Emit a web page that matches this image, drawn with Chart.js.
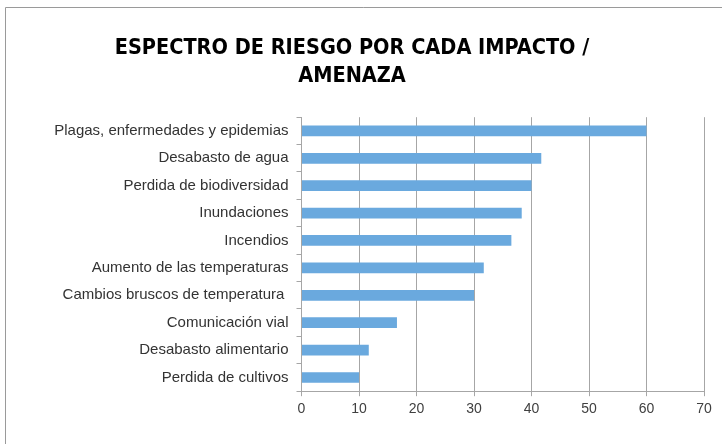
<!DOCTYPE html>
<html>
<head>
<meta charset="utf-8">
<script src="https://cdn.jsdelivr.net/npm/chart.js@4/dist/chart.umd.min.js"></script>
<style>
html,body{margin:0;padding:0;background:#fff;}
#wrap{width:722px;height:444px;position:relative;}
</style>
</head>
<body>
<div id="wrap"><canvas id="c" width="722" height="444"></canvas></div>
<script>
const categories = [
  "Plagas, enfermedades y epidemias",
  "Desabasto de agua",
  "Perdida de biodiversidad",
  "Inundaciones",
  "Incendios",
  "Aumento de las temperaturas",
  "Cambios bruscos de temperatura ",
  "Comunicación vial",
  "Desabasto alimentario",
  "Perdida de cultivos"
];
const values = [60, 41.7, 40, 38.3, 36.5, 31.7, 30, 16.6, 11.7, 10];
const titleLines = ["ESPECTRO DE RIESGO POR CADA IMPACTO /", "AMENAZA"];
const xMin = 0, xMax = 70, xStep = 10;

const frame = {
  id: 'frame',
  beforeDraw(chart) {
    const ctx = chart.ctx;
    ctx.save();
    ctx.fillStyle = '#fff';
    ctx.fillRect(0, 0, chart.width, chart.height);
    ctx.strokeStyle = '#9a9a9a';
    ctx.lineWidth = 1;
    ctx.beginPath();
    ctx.moveTo(5.5, chart.height);
    ctx.lineTo(5.5, 7.5);
    ctx.lineTo(chart.width, 7.5);
    ctx.stroke();
    ctx.restore();
  }
};

new Chart(document.getElementById('c'), {
  type: 'bar',
  data: {
    labels: categories,
    datasets: [{
      data: values,
      backgroundColor: '#6aa9de',
      borderWidth: 0,
      categoryPercentage: 0.8,
      barPercentage: 0.49
    }]
  },
  plugins: [frame],
  options: {
    indexAxis: 'y',
    responsive: false,
    animation: false,
    layout: { padding: { left: 0, right: 18, top: 34, bottom: 21 } },
    plugins: {
      legend: { display: false },
      tooltip: { enabled: false },
      title: {
        display: true,
        text: titleLines,
        color: '#000',
        font: { family: "'DejaVu Sans Condensed',sans-serif", size: 21.5, weight: 'bold', lineHeight: 1.33 },
        padding: { top: 0, bottom: 26 }
      }
    },
    scales: {
      x: {
        min: xMin, max: xMax,
        ticks: { stepSize: xStep, color: '#404040', font: { family: "'Liberation Sans',Arial,sans-serif", size: 14 }, padding: 5 },
        grid: { color: '#a6a6a6', tickLength: 5, tickColor: '#a6a6a6' },
        border: { color: '#a6a6a6' }
      },
      y: {
        afterFit(s) { s.width = 301.5; },
        ticks: { color: '#333', font: { family: "'Liberation Sans',Arial,sans-serif", size: 15 }, padding: 8 },
        grid: { offset: true, drawOnChartArea: false, tickLength: 5, color: '#a6a6a6' },
        border: { color: '#a6a6a6' }
      }
    }
  }
});
</script>
</body>
</html>
